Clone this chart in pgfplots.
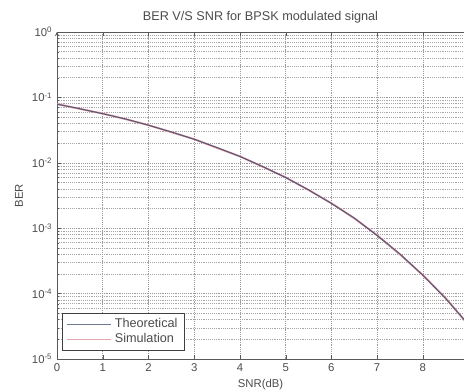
\documentclass[border=0pt]{standalone}
\usepackage{pgfplots}
\pgfplotsset{compat=1.18}
\usepackage{fontspec}
\setmainfont{Liberation Sans}
\definecolor{theo}{RGB}{80,88,118}
\definecolor{simc}{RGB}{220,140,150}
\definecolor{legtheo}{RGB}{110,122,145}
\definecolor{legsim}{RGB}{225,165,175}
\begin{document}
\begin{tikzpicture}
\begin{axis}[
  name=ax,
  axis x line=box,
  axis y line=left,
  scale only axis,
  width=305.25pt, height=245.25pt,
  ymode=log,
  xmin=0, xmax=8.9,
  ymin=1e-5, ymax=1,
  xtick={0,1,...,8},
  ytick={1e-5,1e-4,1e-3,1e-2,1e-1,1},
  yticklabels={10\textsuperscript{-5},10\textsuperscript{-4},10\textsuperscript{-3},10\textsuperscript{-2},10\textsuperscript{-1},10\textsuperscript{0}},
  /pgf/number format/assume math mode=true,
  tick label style={font=\fontsize{8.5}{9}\selectfont, text=black!70},
  xlabel style={font=\fontsize{8.5}{9}\selectfont, text=black!70, at={(axis description cs:0.5,0)}, anchor=base, yshift=-21pt},
  ylabel style={font=\fontsize{8.5}{9}\selectfont, text=black!70},
  title style={font=\fontsize{9.5}{10}\selectfont, text=black!70, yshift=-3pt},
  title={BER V/S SNR for BPSK modulated signal},
  xlabel={SNR(dB)},
  ylabel={BER},
  tick align=inside,
  major tick length=3pt,
  minor tick length=1.5pt,
  grid=both,
  major grid style={densely dotted, black!40},
  minor grid style={densely dotted, black!35},
  axis line style={black!65},
  tick style={black!65},
  legend style={font=\fontsize{9.5}{10}\selectfont, draw=black!75, line width=0.8pt, inner xsep=3pt, inner ysep=2pt, row sep=-1pt, at={(0.013,0.025)}, anchor=south west, text=black!70},
  legend image code/.code={\draw[#1] (0pt,0pt) -- (33pt,0pt);},
  legend cell align=left,
]
\addplot[simc, line width=1.4pt, forget plot] coordinates {
(0,0.0792) (0.5,0.0668) (1,0.0566) (1.5,0.0465) (2,0.0377) (2.5,0.0294) (3,0.0230) (3.5,0.0169) (4,0.01255) (4.5,0.00870) (5,0.00598) (5.5,0.00384) (6,0.00241) (6.5,0.00142) (7,0.000780) (7.5,0.000397) (8,0.000192) (8.5,0.0000850) (9,0.0000330)
};
\addplot[theo, line width=0.7pt, forget plot] coordinates {
(0,0.07865) (0.5,0.0671) (1,0.05628) (1.5,0.04677) (2,0.03751) (2.5,0.02965) (3,0.02288) (3.5,0.0171) (4,0.01250) (4.5,0.00875) (5,0.005954) (5.5,0.00386) (6,0.002388) (6.5,0.00143) (7,0.0007727) (7.5,0.000404) (8,0.0001909) (8.5,0.0000840) (9,0.0000336)
};
\addlegendimage{legtheo, line width=1pt}
\addlegendentry{Theoretical}
\addlegendimage{legsim, line width=1pt}
\addlegendentry{Simulation}
\end{axis}
\pgfresetboundingbox
\path ([xshift=-42.75pt,yshift=-24pt]ax.south west) rectangle ([yshift=24pt]ax.north east);
\end{tikzpicture}
\end{document}
